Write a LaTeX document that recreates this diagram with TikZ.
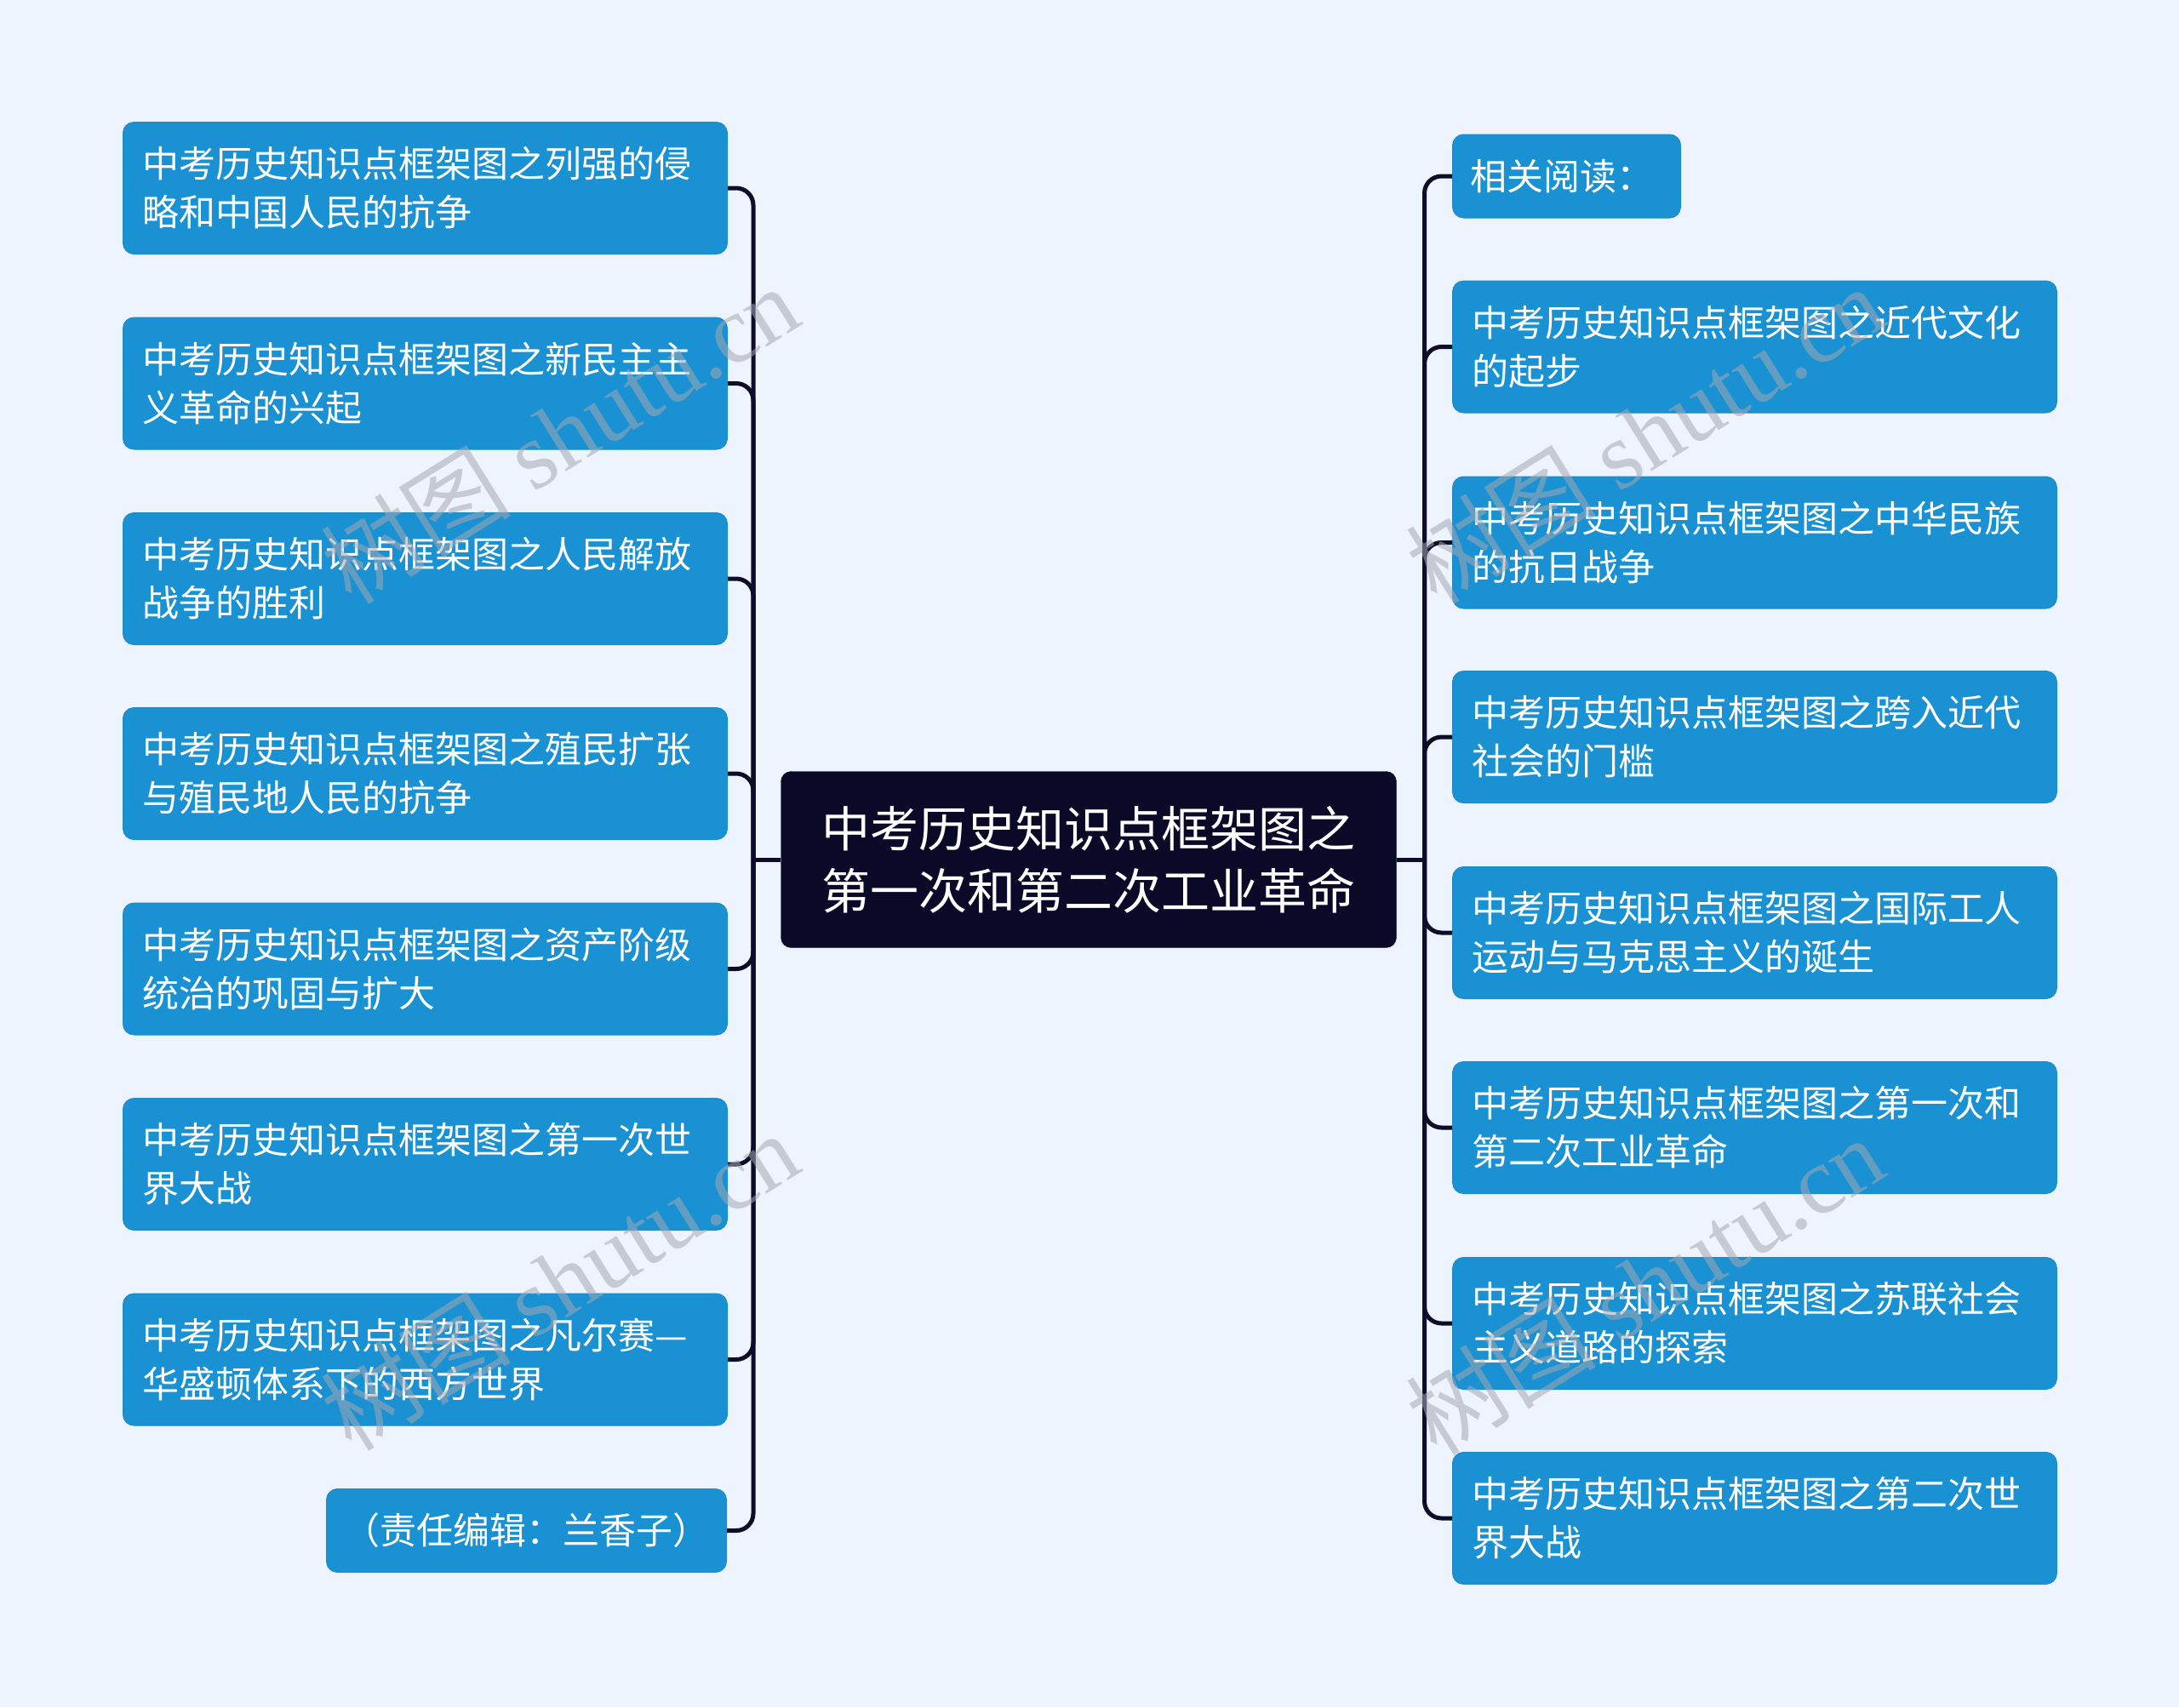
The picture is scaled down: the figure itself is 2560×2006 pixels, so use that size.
\documentclass[tikz,border=0pt]{standalone}
\usepackage{fontspec}
\newfontfamily\cjk{Noto Sans CJK SC}
\newfontfamily\wmserif{Liberation Serif}
\definecolor{bgcol}{RGB}{238,244,254}
\definecolor{leafblue}{RGB}{25,145,210}
\definecolor{leafborder}{RGB}{30,140,200}
\definecolor{rootcol}{RGB}{11,9,40}
\definecolor{linecol}{RGB}{14,12,38}
\definecolor{wmcol}{RGB}{165,168,178}
\begin{document}
\begin{tikzpicture}[x=1pt,y=-1pt,
  leaf/.style={draw=leafborder, line width=1pt, fill=leafblue, rounded corners=13pt,
    text=white, font=\cjk\fontsize{43}{57}\selectfont, align=left,
    text width=664pt, inner xsep=23pt, inner ysep=0pt, minimum height=155pt, anchor=west},
  smallleaf/.style={leaf, minimum height=98pt},
  root/.style={fill=rootcol, draw=rootcol, rounded corners=12pt, text=white,
    font=\cjk\fontsize{57}{73}\selectfont, align=center, minimum width=723pt,
    minimum height=207pt, inner sep=0pt},
  conn/.style={draw=linecol, line width=5pt},
  branch/.style={conn, rounded corners=20pt},
  wm/.style={text=wmcol, opacity=0.55, font=\wmserif\fontsize{112}{112}\selectfont, rotate=32, inner sep=0pt}
]
\useasboundingbox (0,0) rectangle (2560,2006);
\fill[bgcol] (0,0) rectangle (2560,2006);

\node[root] (c) at (1279,1010) {中考历史知识点框架图之\\第一次和第二次工业革命};

% left
\node[leaf] (L1) at (144,221) {中考历史知识点框架图之列强的侵\\略和中国人民的抗争};
\node[leaf] (L2) at (144,450.5) {中考历史知识点框架图之新民主主\\义革命的兴起};
\node[leaf] (L3) at (144,680) {中考历史知识点框架图之人民解放\\战争的胜利};
\node[leaf] (L4) at (144,909) {中考历史知识点框架图之殖民扩张\\与殖民地人民的抗争};
\node[leaf] (L5) at (144,1138.5) {中考历史知识点框架图之资产阶级\\统治的巩固与扩大};
\node[leaf] (L6) at (144,1368) {中考历史知识点框架图之第一次世\\界大战};
\node[leaf] (L7) at (144,1597.5) {中考历史知识点框架图之凡尔赛—\\华盛顿体系下的西方世界};
\node[smallleaf, anchor=east, text width=430pt, inner xsep=20pt, align=center] (L8) at (854,1798.5) {（责任编辑：兰香子）};

% right
\node[smallleaf, text width=226pt, inner xsep=21pt] (R1) at (1706,207) {相关阅读：};
\node[leaf] (R2) at (1706,407.5) {中考历史知识点框架图之近代文化\\的起步};
\node[leaf] (R3) at (1706,637.5) {中考历史知识点框架图之中华民族\\的抗日战争};
\node[leaf] (R4) at (1706,866) {中考历史知识点框架图之跨入近代\\社会的门槛};
\node[leaf] (R5) at (1706,1096) {中考历史知识点框架图之国际工人\\运动与马克思主义的诞生};
\node[leaf] (R6) at (1706,1325) {中考历史知识点框架图之第一次和\\第二次工业革命};
\node[leaf] (R7) at (1706,1555) {中考历史知识点框架图之苏联社会\\主义道路的探索};
\node[leaf] (R8) at (1706,1784) {中考历史知识点框架图之第二次世\\界大战};

% connectors
\coordinate (lj) at (885,1010);
\coordinate (rj) at (1673.5,1010);
\draw[conn] (c.west) -- (lj);
\draw[conn] (c.east) -- (rj);
\foreach \n in {L1,L2,L3,L4,L5,L6,L7,L8} \draw[branch] (lj) |- (\n.east);
\foreach \n in {R1,R2,R3,R4,R5,R6,R7,R8} \draw[branch] (rj) |- (\n.west);

% watermarks
\node[wm] (w1) at (657,510) {{\cjk 树图} shutu.cn};
\node[wm] (w2) at (657,1505) {{\cjk 树图} shutu.cn};
\node[wm] (w3) at (1932,510) {{\cjk 树图} shutu.cn};
\node[wm] (w4) at (1932,1510) {{\cjk 树图} shutu.cn};
\end{tikzpicture}
\end{document}
